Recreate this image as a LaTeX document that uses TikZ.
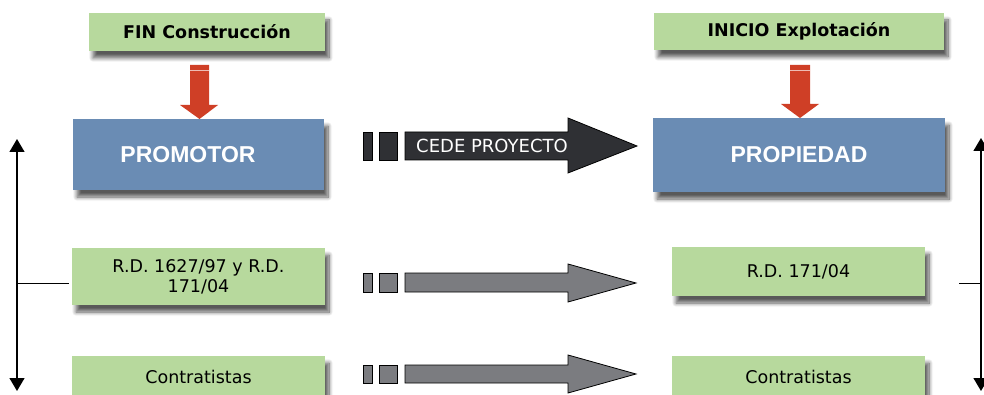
\documentclass[tikz,border=0pt]{standalone}
\usepackage{fontspec}
\setmainfont{DejaVu Sans}
\newfontfamily\arialfont{Liberation Sans}
\usetikzlibrary{shadows.blur,arrows.meta}
\definecolor{boxgreen}{HTML}{B7D99D}
\definecolor{boxblue}{HTML}{6A8CB4}
\definecolor{arrred}{HTML}{CF3F26}
\definecolor{arrdark}{HTML}{2F3034}
\definecolor{arrgrey}{HTML}{7B7C80}
\tikzset{
  shad/.style={blur shadow={shadow xshift=4pt,shadow yshift=-7pt,shadow blur steps=10,shadow blur radius=4pt,shadow opacity=65}},
  greenbox/.style={fill=boxgreen,shad,inner sep=0pt,align=center,font=\fontsize{17.5}{20}\selectfont},
  bluebox/.style={fill=boxblue,shad,inner sep=0pt,text=white,font=\arialfont\bfseries\fontsize{23}{26}\selectfont},
  redarr/.style={fill=arrred},
  redline/.style={draw=arrred!35!white,line width=1pt},
  blockarr/.style={draw=black,line width=0.8pt,line join=miter},
  vline/.style={draw=black,line width=1.3pt,{Triangle[width=15pt,length=13pt]}-{Triangle[width=15pt,length=13pt]}},
  hline/.style={draw=black,line width=1pt}
}
\begin{document}
\begin{tikzpicture}[x=1pt,y=-1pt]
\useasboundingbox (0,0) rectangle (984,395);
% top green boxes
\node[greenbox,minimum width=236pt,minimum height=38pt,font=\bfseries\fontsize{17.5}{20}\selectfont] (fin) at (207,32) {FIN Construcción};
\node[greenbox,minimum width=290pt,minimum height=37pt,font=\bfseries\fontsize{17.5}{20}\selectfont] (inicio) at (799,31.5) {INICIO Explotación};
% blue boxes
\node[bluebox,minimum width=251pt,minimum height=71pt] (promotor) at (198.5,154.5) {\hspace*{-21pt}PROMOTOR};
\node[bluebox,minimum width=292pt,minimum height=74pt] (propiedad) at (799,155) {PROPIEDAD};
% lower green boxes
\node[greenbox,minimum width=253pt,minimum height=57pt] (rdL) at (198.5,276.5) {R.D. 1627/97 y R.D.\\171/04};
\node[greenbox,minimum width=253pt,minimum height=49pt] (rdR) at (798.5,271.5) {R.D. 171/04};
\node[greenbox,minimum width=253pt,minimum height=42pt] (conL) at (198.5,377) {Contratistas};
\node[greenbox,minimum width=253pt,minimum height=42pt] (conR) at (798.5,377) {Contratistas};
% red arrows
\fill[redarr] (190,65) -- (209,65) -- (209,105) -- (218,105) -- (199.5,119) -- (180,105) -- (190,105) -- cycle;
\draw[redline] (190,71) -- (209,71);
\fill[redarr] (790,65) -- (810,65) -- (810,104) -- (819,104) -- (800,118) -- (781,104) -- (790,104) -- cycle;
\draw[redline] (790,71) -- (810,71);
% block arrow 1 (dark)
\filldraw[blockarr,fill=arrdark] (363,132) rectangle (372,160);
\filldraw[blockarr,fill=arrdark] (379,132) rectangle (397,160);
\filldraw[blockarr,fill=arrdark] (405,132) -- (568,132) -- (568,118) -- (637,146) -- (568,173) -- (568,160) -- (405,160) -- cycle;
\node[anchor=west,text=white,inner sep=0pt,font=\fontsize{18}{20}\selectfont] (cede) at (416,146) {CEDE PROYECTO};
% block arrow 2
\filldraw[blockarr,fill=arrgrey] (363,273) rectangle (372,292);
\filldraw[blockarr,fill=arrgrey] (379,273) rectangle (397,292);
\filldraw[blockarr,fill=arrgrey] (405,273) -- (568,273) -- (568,264) -- (636,283) -- (568,302) -- (568,292) -- (405,292) -- cycle;
% block arrow 3
\filldraw[blockarr,fill=arrgrey] (363,365) rectangle (372,383);
\filldraw[blockarr,fill=arrgrey] (379,365) rectangle (397,383);
\filldraw[blockarr,fill=arrgrey] (405,365) -- (568,365) -- (568,355) -- (636,374) -- (568,393) -- (568,383) -- (405,383) -- cycle;
% side arrows
\coordinate (lt) at (17,139);
\coordinate (lb) at (17,391);
\coordinate (lm) at (17,283);
\coordinate (lme) at (69,283);
\draw[vline] (lt) -- (lb);
\draw[hline] (lm) -- (lme);
\coordinate (rt) at (981,138);
\coordinate (rb) at (981,391);
\coordinate (rm) at (981,283);
\coordinate (rme) at (959,283);
\draw[vline] (rt) -- (rb);
\draw[hline] (rm) -- (rme);
\end{tikzpicture}
\end{document}
